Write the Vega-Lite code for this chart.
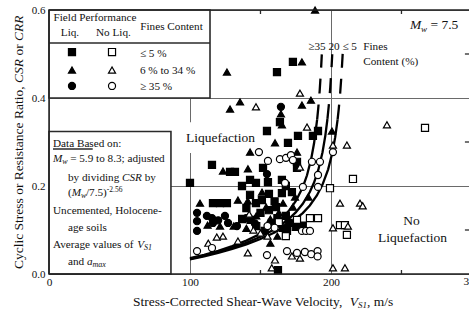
{
"$schema": "https://vega.github.io/schema/vega-lite/v6.json",
"width": 420, "height": 264,
"autosize": {"type": "none"},
"padding": {"left": 49, "top": 10, "right": 0, "bottom": 38},
"background": "white",
"config": {"view": {"stroke": null}, "font": "Liberation Serif"},
"datasets": {
"pts": [
{"v":161.7,"c":0.459,"f":"S","liq":"L"},{"v":173,"c":0.482,"f":"S","liq":"L"},{"v":163.8,"c":0.345,"f":"S","liq":"L"},{"v":154.6,"c":0.325,"f":"S","liq":"L"},{"v":190.8,"c":0.325,"f":"S","liq":"L"},{"v":176.6,"c":0.314,"f":"S","liq":"L"},{"v":187.2,"c":0.314,"f":"S","liq":"L"},{"v":169.5,"c":0.298,"f":"S","liq":"L"},
{"v":115.6,"c":0.248,"f":"S","liq":"L"},{"v":128.4,"c":0.232,"f":"S","liq":"L"},{"v":131.9,"c":0.232,"f":"S","liq":"L"},{"v":151.8,"c":0.241,"f":"S","liq":"L"},{"v":100,"c":0.207,"f":"S","liq":"L"},{"v":136.9,"c":0.2,"f":"S","liq":"L"},{"v":142.6,"c":0.214,"f":"S","liq":"L"},{"v":146.8,"c":0.207,"f":"S","liq":"L"},{"v":155.3,"c":0.209,"f":"S","liq":"L"},{"v":142.6,"c":0.18,"f":"S","liq":"L"},{"v":156,"c":0.182,"f":"S","liq":"L"},
{"v":175.9,"c":0.255,"f":"S","liq":"L"},{"v":175.9,"c":0.241,"f":"S","liq":"L"},{"v":165.2,"c":0.214,"f":"S","liq":"L"},{"v":172.3,"c":0.186,"f":"S","liq":"L"},{"v":165.2,"c":0.184,"f":"S","liq":"L"},{"v":168,"c":0.2,"f":"S","liq":"L"},
{"v":116.3,"c":0.161,"f":"S","liq":"L"},{"v":121.3,"c":0.161,"f":"S","liq":"L"},{"v":126.2,"c":0.161,"f":"S","liq":"L"},{"v":140,"c":0.15,"f":"S","liq":"L"},{"v":146.8,"c":0.161,"f":"S","liq":"L"},{"v":151,"c":0.168,"f":"S","liq":"L"},{"v":137,"c":0.125,"f":"S","liq":"L"},{"v":143,"c":0.123,"f":"S","liq":"L"},{"v":150,"c":0.139,"f":"S","liq":"L"},{"v":156,"c":0.145,"f":"S","liq":"L"},{"v":161,"c":0.152,"f":"S","liq":"L"},{"v":162,"c":0.127,"f":"S","liq":"L"},{"v":168,"c":0.132,"f":"S","liq":"L"},{"v":158,"c":0.116,"f":"S","liq":"L"},{"v":170,"c":0.116,"f":"S","liq":"L"},{"v":175,"c":0.107,"f":"S","liq":"L"},{"v":180,"c":0.11,"f":"S","liq":"L"},{"v":165.9,"c":0.105,"f":"S","liq":"L"},{"v":168.8,"c":0.098,"f":"S","liq":"L"},{"v":162.4,"c":0.009,"f":"S","liq":"L"},{"v":153,"c":0.098,"f":"S","liq":"L"},{"v":147,"c":0.109,"f":"S","liq":"L"},{"v":160,"c":0.165,"f":"S","liq":"L"},
{"v":188.7,"c":0.6,"f":"T","liq":"L"},{"v":126.2,"c":0.459,"f":"T","liq":"L"},{"v":128.4,"c":0.375,"f":"T","liq":"L"},{"v":135.5,"c":0.391,"f":"T","liq":"L"},{"v":179.4,"c":0.482,"f":"T","liq":"L"},{"v":179.4,"c":0.384,"f":"T","liq":"L"},{"v":185.8,"c":0.395,"f":"T","liq":"L"},{"v":164.5,"c":0.364,"f":"T","liq":"L"},{"v":165.2,"c":0.339,"f":"T","liq":"L"},{"v":200.7,"c":0.325,"f":"T","liq":"L"},{"v":160.3,"c":0.298,"f":"T","liq":"L"},{"v":142.6,"c":0.277,"f":"T","liq":"L"},{"v":175.9,"c":0.277,"f":"T","liq":"L"},{"v":123.4,"c":0.234,"f":"T","liq":"L"},{"v":141.1,"c":0.239,"f":"T","liq":"L"},{"v":151.1,"c":0.186,"f":"T","liq":"L"},{"v":174.5,"c":0.175,"f":"T","liq":"L"},
{"v":107.1,"c":0.161,"f":"T","liq":"L"},{"v":134,"c":0.168,"f":"T","liq":"L"},{"v":141,"c":0.166,"f":"T","liq":"L"},{"v":154,"c":0.152,"f":"T","liq":"L"},{"v":112.5,"c":0.111,"f":"T","liq":"L"},{"v":121.3,"c":0.109,"f":"T","liq":"L"},{"v":131,"c":0.109,"f":"T","liq":"L"},{"v":140,"c":0.104,"f":"T","liq":"L"},{"v":147,"c":0.132,"f":"T","liq":"L"},{"v":157,"c":0.125,"f":"T","liq":"L"},{"v":163,"c":0.139,"f":"T","liq":"L"},{"v":166,"c":0.161,"f":"T","liq":"L"},{"v":173,"c":0.152,"f":"T","liq":"L"},{"v":184,"c":0.175,"f":"T","liq":"L"},{"v":157,"c":0.07,"f":"T","liq":"L"},{"v":162,"c":0.086,"f":"T","liq":"L"},
{"v":164.5,"c":0.38,"f":"C","liq":"L"},{"v":154.6,"c":0.227,"f":"C","liq":"L"},{"v":105,"c":0.139,"f":"C","liq":"L"},{"v":105,"c":0.12,"f":"C","liq":"L"},{"v":105,"c":0.098,"f":"C","liq":"L"},{"v":112,"c":0.132,"f":"C","liq":"L"},{"v":115.6,"c":0.127,"f":"C","liq":"L"},{"v":116.3,"c":0.116,"f":"C","liq":"L"},{"v":120,"c":0.122,"f":"C","liq":"L"},{"v":124.8,"c":0.132,"f":"C","liq":"L"},{"v":127,"c":0.116,"f":"C","liq":"L"},{"v":133.3,"c":0.109,"f":"C","liq":"L"},{"v":140,"c":0.127,"f":"C","liq":"L"},{"v":146,"c":0.115,"f":"C","liq":"L"},
{"v":266.7,"c":0.332,"f":"S","liq":"N"},{"v":199.3,"c":0.195,"f":"S","liq":"N"},{"v":215.6,"c":0.216,"f":"S","liq":"N"},{"v":175.9,"c":0.123,"f":"S","liq":"N"},{"v":185.1,"c":0.127,"f":"S","liq":"N"},{"v":190.8,"c":0.127,"f":"S","liq":"N"},{"v":206.4,"c":0.111,"f":"S","liq":"N"},{"v":209.9,"c":0.111,"f":"S","liq":"N"},{"v":211.3,"c":0.089,"f":"S","liq":"N"},{"v":163,"c":0.118,"f":"S","liq":"N"},{"v":168,"c":0.086,"f":"S","liq":"N"},
{"v":146.8,"c":0.38,"f":"T","liq":"N"},{"v":178,"c":0.411,"f":"T","liq":"N"},{"v":183,"c":0.334,"f":"T","liq":"N"},{"v":239.7,"c":0.339,"f":"T","liq":"N"},{"v":211.3,"c":0.293,"f":"T","liq":"N"},{"v":201.4,"c":0.293,"f":"T","liq":"N"},{"v":178,"c":0.243,"f":"T","liq":"N"},{"v":206.4,"c":0.161,"f":"T","liq":"N"},{"v":220.6,"c":0.161,"f":"T","liq":"N"},{"v":222.5,"c":0.155,"f":"T","liq":"N"},{"v":201.4,"c":0.105,"f":"T","liq":"N"},{"v":212,"c":0.109,"f":"T","liq":"N"},{"v":123.4,"c":0.086,"f":"T","liq":"N"},{"v":134,"c":0.075,"f":"T","liq":"N"},{"v":141,"c":0.048,"f":"T","liq":"N"},{"v":150,"c":0.093,"f":"T","liq":"N"},{"v":145,"c":0.1,"f":"T","liq":"N"},{"v":155,"c":0.086,"f":"T","liq":"N"},{"v":160.3,"c":0.032,"f":"T","liq":"N"},{"v":172.3,"c":0.041,"f":"T","liq":"N"},{"v":178,"c":0.036,"f":"T","liq":"N"},{"v":201.4,"c":0.014,"f":"T","liq":"N"},{"v":209.9,"c":0.014,"f":"T","liq":"N"},{"v":158,"c":0.014,"f":"T","liq":"N"},{"v":113,"c":0.07,"f":"T","liq":"N"},{"v":119,"c":0.084,"f":"T","liq":"N"},{"v":142,"c":0.136,"f":"T","liq":"N"},
{"v":148.9,"c":0.277,"f":"C","liq":"N"},{"v":155.3,"c":0.257,"f":"C","liq":"N"},{"v":163.8,"c":0.261,"f":"C","liq":"N"},{"v":168.1,"c":0.264,"f":"C","liq":"N"},{"v":171.6,"c":0.27,"f":"C","liq":"N"},{"v":173,"c":0.259,"f":"C","liq":"N"},{"v":186.5,"c":0.255,"f":"C","liq":"N"},{"v":192.2,"c":0.255,"f":"C","liq":"N"},{"v":190.8,"c":0.225,"f":"C","liq":"N"},{"v":180.1,"c":0.198,"f":"C","liq":"N"},{"v":167.4,"c":0.207,"f":"C","liq":"N"},{"v":190.8,"c":0.198,"f":"C","liq":"N"},{"v":201.4,"c":0.277,"f":"C","liq":"N"},{"v":179.4,"c":0.098,"f":"C","liq":"N"},{"v":182.3,"c":0.098,"f":"C","liq":"N"},{"v":185.1,"c":0.098,"f":"C","liq":"N"},{"v":105,"c":0.052,"f":"C","liq":"N"},{"v":115.6,"c":0.059,"f":"C","liq":"N"},{"v":154.6,"c":0.043,"f":"C","liq":"N"},{"v":168.8,"c":0.052,"f":"C","liq":"N"},{"v":175.9,"c":0.048,"f":"C","liq":"N"},{"v":181.5,"c":0.05,"f":"C","liq":"N"},{"v":186,"c":0.045,"f":"C","liq":"N"},{"v":190.5,"c":0.052,"f":"C","liq":"N"},{"v":190.5,"c":0.04,"f":"C","liq":"N"},{"v":160,"c":0.105,"f":"C","liq":"N"},{"v":155,"c":0.109,"f":"C","liq":"N"}
],
"key": [
{"v":16.3,"c":0.5045,"f":"S","liq":"L"},{"v":44.7,"c":0.5045,"f":"S","liq":"N"},{"v":16.3,"c":0.4636,"f":"T","liq":"L"},{"v":44.7,"c":0.4636,"f":"T","liq":"N"},{"v":16.3,"c":0.4273,"f":"C","liq":"L"},{"v":44.7,"c":0.4273,"f":"C","liq":"N"}
],
"solid": [
{"k":"a","v":100,"c":0.036},{"k":"a","v":110,"c":0.0437},{"k":"a","v":120,"c":0.0527},{"k":"a","v":130,"c":0.0632},{"k":"a","v":140,"c":0.0758},{"k":"a","v":150,"c":0.0915},{"k":"a","v":160,"c":0.1123},{"k":"a","v":165,"c":0.1259},{"k":"a","v":170,"c":0.1429},{"k":"a","v":175,"c":0.1654},{"k":"a","v":180,"c":0.1973},{"k":"a","v":183,"c":0.2244},{"k":"a","v":186,"c":0.2621},{"k":"a","v":188,"c":0.2971},{"k":"a","v":190.2,"c":0.3513},
{"k":"b","v":100,"c":0.0346},{"k":"b","v":110,"c":0.0418},{"k":"b","v":120,"c":0.0502},{"k":"b","v":130,"c":0.0598},{"k":"b","v":140,"c":0.0711},{"k":"b","v":150,"c":0.0847},{"k":"b","v":160,"c":0.1018},{"k":"b","v":170,"c":0.1248},{"k":"b","v":175,"c":0.14},{"k":"b","v":180,"c":0.1596},{"k":"b","v":185,"c":0.1863},{"k":"b","v":188,"c":0.2079},{"k":"b","v":191,"c":0.2365},{"k":"b","v":194,"c":0.2767},{"k":"b","v":196,"c":0.3145},{"k":"b","v":197.5,"c":0.3523},
{"k":"c","v":100,"c":0.0333},{"k":"c","v":110,"c":0.0403},{"k":"c","v":120,"c":0.0481},{"k":"c","v":130,"c":0.0571},{"k":"c","v":140,"c":0.0674},{"k":"c","v":150,"c":0.0796},{"k":"c","v":160,"c":0.0942},{"k":"c","v":170,"c":0.1128},{"k":"c","v":180,"c":0.1383},{"k":"c","v":185,"c":0.1556},{"k":"c","v":190,"c":0.1784},{"k":"c","v":194,"c":0.2031},{"k":"c","v":198,"c":0.2379},{"k":"c","v":201,"c":0.2759},{"k":"c","v":203,"c":0.311},{"k":"c","v":204.7,"c":0.351}
],
"dashed": [
{"k":"a","v":190.2,"c":0.3513},{"k":"a","v":191,"c":0.3774},{"k":"a","v":192,"c":0.4171},{"k":"a","v":193,"c":0.468},{"k":"a","v":193.5,"c":0.4991},
{"k":"b","v":197.5,"c":0.3523},{"k":"b","v":198.5,"c":0.3843},{"k":"b","v":199.5,"c":0.4241},{"k":"b","v":200.5,"c":0.475},{"k":"b","v":200.9,"c":0.4995},
{"k":"c","v":204.7,"c":0.351},{"k":"c","v":205.5,"c":0.3746},{"k":"c","v":206.5,"c":0.4102},{"k":"c","v":207.5,"c":0.455},{"k":"c","v":208.3,"c":0.5003}
],
"boxes": [
{"v":0,"v2":114.2,"c":0.4,"c2":0.6},{"v":0,"v2":86.5,"c":0,"c2":0.324}
],
"lines": [
{"v":0,"v2":114.2,"c":0.525,"c2":0.525},{"v":2.84,"v2":31.0,"c":0.2841,"c2":0.2841},
{"v":150,"v2":150,"c":0,"c2":0.0091},{"v":250,"v2":250,"c":0,"c2":0.0091},
{"v":150,"v2":150,"c":0.6,"c2":0.5909},{"v":250,"v2":250,"c":0.6,"c2":0.5909},
{"v":295,"v2":297.9,"c":0.1,"c2":0.1},{"v":295,"v2":297.9,"c":0.3,"c2":0.3},{"v":295,"v2":297.9,"c":0.5,"c2":0.5}
],
"txtC": [
{"v":32.6,"c":0.5818,"t":"Field Performance"},{"v":14.9,"c":0.5477,"t":"Liq."},{"v":45.7,"c":0.5477,"t":"No Liq."},{"v":86.9,"c":0.5614,"t":"Fines Content"}
],
"txtL": [
{"v":64.5,"c":0.5,"t":"≤ 5 %"},{"v":64.5,"c":0.4614,"t":"6 % to 34 %"},{"v":64.5,"c":0.425,"t":"≥ 35 %"},
{"v":2.84,"c":0.2955,"t":"Data Based on:"},
{"v":15.0,"c":0.2614,"t":"= 5.9 to 8.3; adjusted"},
{"v":13.48,"c":0.2182,"t":"by dividing"},{"v":67.9,"c":0.2182,"t":"by"},
{"v":13.48,"c":0.1841,"t":"("},{"v":26.2,"c":0.1841,"t":"/7.5)"},
{"v":2.84,"c":0.1432,"t":"Uncemented, Holocene-"},
{"v":13.48,"c":0.1045,"t":"age soils"},
{"v":2.84,"c":0.0659,"t":"Average values of"},
{"v":13.48,"c":0.0273,"t":"and"},
{"v":183.9,"c":0.516,"t":"≥35 20 ≤ 5"},{"v":222.9,"c":0.516,"t":"Fines"},{"v":222.9,"c":0.4818,"t":"Content (%)"}
],
"txtI": [
{"v":2.84,"c":0.2614,"t":"M"},{"v":51.8,"c":0.2182,"t":"CSR"},{"v":16.1,"c":0.1841,"t":"M"},{"v":62.6,"c":0.0659,"t":"V"},{"v":26.95,"c":0.0273,"t":"a"}
],
"txtSub": [
{"v":9.43,"c":0.2614,"t":"w"},{"v":22.7,"c":0.1841,"t":"w"},{"v":67.4,"c":0.0659,"t":"S1"},{"v":30.9,"c":0.0273,"t":"max"}
],
"txtSup": [
{"v":41.0,"c":0.1841,"t":"-2.56"}
],
"bigL": [
{"v":59.6,"c":-0.0636,"t":"Stress-Corrected Shear-Wave Velocity,"},{"v":225.5,"c":-0.0636,"t":", m/s"},{"v":270.6,"c":0.5659,"t":"= 7.5"}
],
"bigI": [
{"v":213.3,"c":-0.0636,"t":"V"},{"v":256.0,"c":0.5659,"t":"M"}
],
"bigSub": [
{"v":219.1,"c":-0.0636,"t":"S1"},{"v":263.9,"c":0.5659,"t":"w"}
],
"bigC": [
{"v":121.6,"c":0.309,"t":"Liquefaction"},{"v":257.1,"c":0.1205,"t":"No"},{"v":257.8,"c":0.0818,"t":"Liquefaction"}
],
"ytitle": [
{"v":-21.3,"c":0.01136,"t":"Cyclic Stress or Resistance Ratio,"},{"v":-21.3,"c":0.4964,"t":"or"}
],
"ytitleI": [
{"v":-21.3,"c":0.434,"t":"CSR"},{"v":-21.3,"c":0.5295,"t":"CRR"}
],
"lab300": [{"v":300,"c":-0.00455,"t":"300"}],
"mask": [{"v":95.7,"v2":148.2,"c":0.275,"c2":0.345}],
"borderX": [{"v":0}],
"borderY": [{"c":0},{"c":0.6}]
},
"layer": [
{
"data": {"name": "boxes"},
"mark": {"type": "rect", "fill": "white", "stroke": "#2a2a2a", "strokeWidth": 1.6},
"encoding": {
"x": {"field": "v", "type": "quantitative", "scale": {"domain": [0, 297.9], "nice": false, "zero": false},
"axis": {"values": [0, 100, 200], "title": null, "domain": false, "ticks": false, "grid": true, "gridColor": "#6a6a6a", "gridWidth": 1, "labelFont": "Liberation Serif", "labelFontSize": 11.3, "labelColor": "#111", "labelPadding": 2, "labelFlush": false, "labelOverlap": false}},
"x2": {"field": "v2"},
"y": {"field": "c", "type": "quantitative", "scale": {"domain": [0, 0.6], "nice": false, "zero": false},
"axis": {"values": [0, 0.2, 0.4, 0.6], "format": ".1f", "title": null, "domain": false, "ticks": false, "grid": true, "gridColor": "#6a6a6a", "gridWidth": 1, "labelFont": "Liberation Serif", "labelFontSize": 11, "labelColor": "#111", "labelPadding": 4, "labelFlush": false, "labelOverlap": false}},
"y2": {"field": "c2"}
}
},
{
"data": {"name": "mask"},
"mark": {"type": "rect", "fill": "white"},
"encoding": {"x": {"field": "v", "type": "quantitative"}, "x2": {"field": "v2"}, "y": {"field": "c", "type": "quantitative"}, "y2": {"field": "c2"}}
},
{
"data": {"name": "lines"},
"mark": {"type": "rule", "stroke": "#2a2a2a", "strokeWidth": 1.3},
"encoding": {"x": {"field": "v", "type": "quantitative"}, "x2": {"field": "v2"}, "y": {"field": "c", "type": "quantitative"}, "y2": {"field": "c2"}}
},
{
"data": {"name": "solid"},
"mark": {"type": "line", "stroke": "black", "strokeWidth": 2.3},
"encoding": {"x": {"field": "v", "type": "quantitative"}, "y": {"field": "c", "type": "quantitative"}, "detail": {"field": "k"}}
},
{
"data": {"name": "dashed"},
"mark": {"type": "line", "stroke": "black", "strokeWidth": 2.3, "strokeDash": [15, 11]},
"encoding": {"x": {"field": "v", "type": "quantitative"}, "y": {"field": "c", "type": "quantitative"}, "detail": {"field": "k"}}
},
{
"data": {"name": "pts"},
"mark": {"type": "point", "filled": true, "stroke": "black", "strokeWidth": 1.2, "size": 50, "opacity": 1},
"encoding": {
"x": {"field": "v", "type": "quantitative"},
"y": {"field": "c", "type": "quantitative"},
"shape": {"field": "f", "type": "nominal", "scale": {"domain": ["S", "T", "C"], "range": ["square", "triangle-up", "circle"]}, "legend": null},
"fill": {"field": "liq", "type": "nominal", "scale": {"domain": ["L", "N"], "range": ["#000000", "#ffffff"]}, "legend": null}
}
},
{
"data": {"name": "key"},
"mark": {"type": "point", "filled": true, "stroke": "black", "strokeWidth": 1.2, "size": 50, "opacity": 1},
"encoding": {
"x": {"field": "v", "type": "quantitative"},
"y": {"field": "c", "type": "quantitative"},
"shape": {"field": "f", "type": "nominal", "legend": null},
"fill": {"field": "liq", "type": "nominal", "legend": null}
}
},
{
"data": {"name": "txtC"},
"mark": {"type": "text", "font": "Liberation Serif", "fontSize": 11.2, "align": "center", "baseline": "middle", "fill": "#111"},
"encoding": {"x": {"field": "v", "type": "quantitative"}, "y": {"field": "c", "type": "quantitative"}, "text": {"field": "t"}}
},
{
"data": {"name": "txtL"},
"mark": {"type": "text", "font": "Liberation Serif", "fontSize": 11.2, "align": "left", "baseline": "middle", "fill": "#111"},
"encoding": {"x": {"field": "v", "type": "quantitative"}, "y": {"field": "c", "type": "quantitative"}, "text": {"field": "t"}}
},
{
"data": {"name": "txtI"},
"mark": {"type": "text", "font": "Liberation Serif", "fontStyle": "italic", "fontSize": 11.2, "align": "left", "baseline": "middle", "fill": "#111"},
"encoding": {"x": {"field": "v", "type": "quantitative"}, "y": {"field": "c", "type": "quantitative"}, "text": {"field": "t"}}
},
{
"data": {"name": "txtSub"},
"mark": {"type": "text", "font": "Liberation Serif", "fontStyle": "italic", "fontSize": 8, "align": "left", "baseline": "middle", "dy": 3, "fill": "#111"},
"encoding": {"x": {"field": "v", "type": "quantitative"}, "y": {"field": "c", "type": "quantitative"}, "text": {"field": "t"}}
},
{
"data": {"name": "txtSup"},
"mark": {"type": "text", "font": "Liberation Serif", "fontSize": 7.5, "align": "left", "baseline": "middle", "dy": -3, "fill": "#111"},
"encoding": {"x": {"field": "v", "type": "quantitative"}, "y": {"field": "c", "type": "quantitative"}, "text": {"field": "t"}}
},
{
"data": {"name": "bigL"},
"mark": {"type": "text", "font": "Liberation Serif", "fontSize": 13.5, "align": "left", "baseline": "middle", "fill": "#111"},
"encoding": {"x": {"field": "v", "type": "quantitative"}, "y": {"field": "c", "type": "quantitative"}, "text": {"field": "t"}}
},
{
"data": {"name": "bigI"},
"mark": {"type": "text", "font": "Liberation Serif", "fontStyle": "italic", "fontSize": 13.5, "align": "left", "baseline": "middle", "fill": "#111"},
"encoding": {"x": {"field": "v", "type": "quantitative"}, "y": {"field": "c", "type": "quantitative"}, "text": {"field": "t"}}
},
{
"data": {"name": "bigSub"},
"mark": {"type": "text", "font": "Liberation Serif", "fontStyle": "italic", "fontSize": 9, "align": "left", "baseline": "middle", "dy": 3.5, "fill": "#111"},
"encoding": {"x": {"field": "v", "type": "quantitative"}, "y": {"field": "c", "type": "quantitative"}, "text": {"field": "t"}}
},
{
"data": {"name": "bigC"},
"mark": {"type": "text", "font": "Liberation Serif", "fontSize": 13.5, "align": "center", "baseline": "middle", "fill": "#111"},
"encoding": {"x": {"field": "v", "type": "quantitative"}, "y": {"field": "c", "type": "quantitative"}, "text": {"field": "t"}}
},
{
"data": {"name": "ytitle"},
"mark": {"type": "text", "font": "Liberation Serif", "fontSize": 13.5, "align": "left", "baseline": "middle", "angle": 270, "fill": "#111"},
"encoding": {"x": {"field": "v", "type": "quantitative"}, "y": {"field": "c", "type": "quantitative"}, "text": {"field": "t"}}
},
{
"data": {"name": "ytitleI"},
"mark": {"type": "text", "font": "Liberation Serif", "fontStyle": "italic", "fontSize": 13.5, "align": "left", "baseline": "middle", "angle": 270, "fill": "#111"},
"encoding": {"x": {"field": "v", "type": "quantitative"}, "y": {"field": "c", "type": "quantitative"}, "text": {"field": "t"}}
},
{
"data": {"name": "lab300"},
"mark": {"type": "text", "font": "Liberation Serif", "fontSize": 11.3, "align": "center", "baseline": "top", "fill": "#111"},
"encoding": {"x": {"field": "v", "type": "quantitative"}, "y": {"field": "c", "type": "quantitative"}, "text": {"field": "t"}}
},
{
"data": {"name": "borderX"},
"mark": {"type": "rule", "stroke": "#222", "strokeWidth": 1.5},
"encoding": {"x": {"field": "v", "type": "quantitative"}}
},
{
"data": {"name": "borderY"},
"mark": {"type": "rule", "stroke": "#222", "strokeWidth": 1.5},
"encoding": {"y": {"field": "c", "type": "quantitative"}}
}
]
}
